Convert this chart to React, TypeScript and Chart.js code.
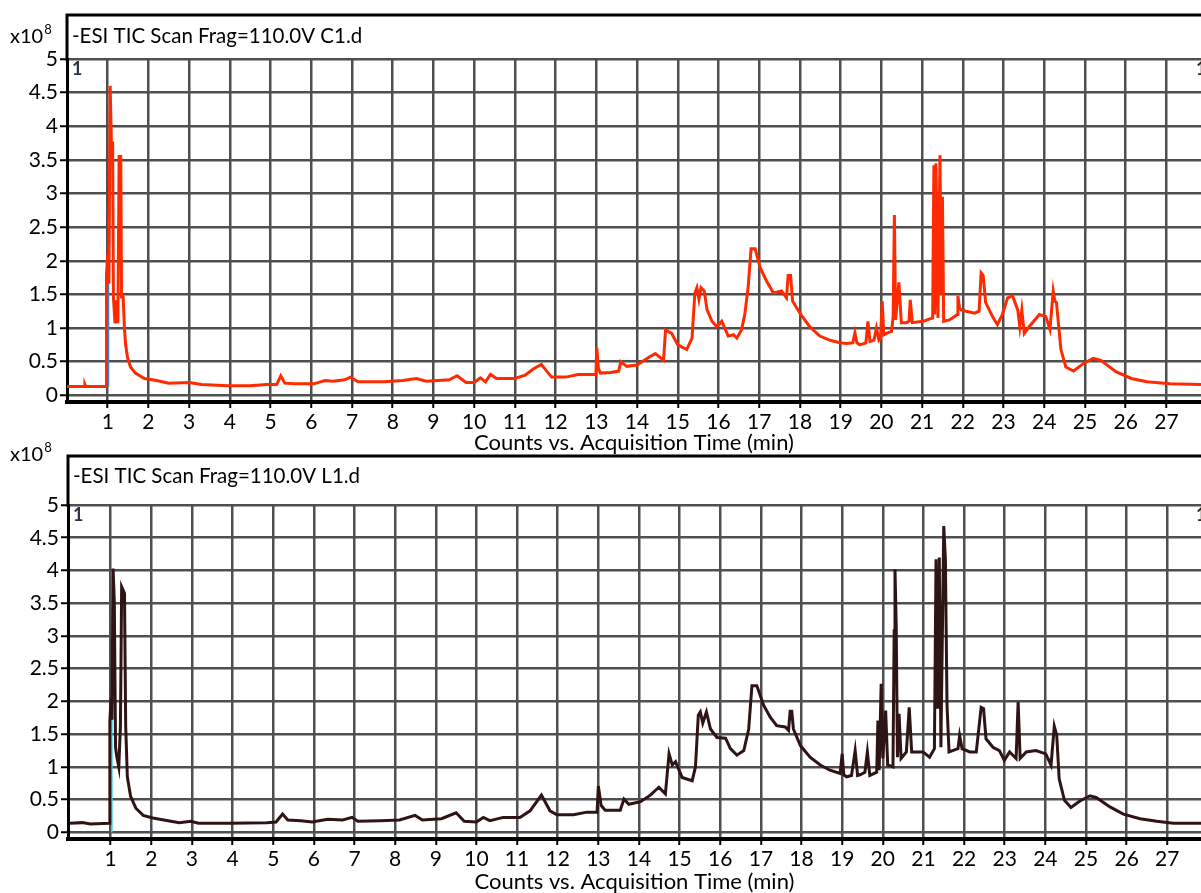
import React, { useEffect, useRef } from 'react';
import { Chart, registerables } from 'chart.js';

Chart.register(...registerables);

const FONT = 'Lato, "Open Sans", sans-serif';

// Axis ticks
const xTicks = [1, 2, 3, 4, 5, 6, 7, 8, 9, 10, 11, 12, 13, 14, 15, 16, 17, 18, 19, 20, 21, 22, 23, 24, 25, 26, 27];
const yTicks = [0, 0.5, 1, 1.5, 2, 2.5, 3, 3.5, 4, 4.5, 5];
const yTickLabels = ['0', '0.5', '1', '1.5', '2', '2.5', '3', '3.5', '4', '4.5', '5'];

const axisTitle = 'Counts vs. Acquisition Time (min)';
const c1Title = '-ESI TIC Scan Frag=110.0V C1.d';
const l1Title = '-ESI TIC Scan Frag=110.0V L1.d';

// C1 trace: acquisition time (min) and counts (x10^8)
const c1Time = [
  0, 0.42, 0.44, 0.46, 0.96, 0.97, 1.0, 1.03, 1.06, 1.09, 1.12, 1.14, 1.18, 1.21, 1.25, 1.28, 1.32, 1.34, 1.38, 1.41,
  1.44, 1.49, 1.56, 1.68, 1.9, 2.2, 2.5, 3.0, 3.3, 3.95, 4.5, 4.9, 5.15, 5.25, 5.35, 5.58, 6.06, 6.34, 6.53, 6.82,
  6.96, 7.15, 7.77, 8.25, 8.58, 8.82, 9.39, 9.58, 9.8, 10.0, 10.15, 10.28, 10.4, 10.55, 11.0, 11.25, 11.45, 11.65, 11.9, 12.25,
  12.55, 12.95, 12.99, 13.01, 13.05, 13.1, 13.35, 13.55, 13.6, 13.75, 14.0, 14.3, 14.45, 14.65, 14.7, 14.85, 15.0, 15.22, 15.35, 15.42,
  15.47, 15.52, 15.57, 15.65, 15.72, 15.84, 15.96, 16.08, 16.24, 16.37, 16.45, 16.57, 16.65, 16.73, 16.8, 16.9, 17.02, 17.18, 17.35, 17.55,
  17.67, 17.71, 17.77, 17.82, 18.0, 18.24, 18.49, 18.73, 18.98, 19.14, 19.3, 19.35, 19.4, 19.47, 19.62, 19.67, 19.72, 19.82, 19.88, 19.94,
  19.98, 20.02, 20.06, 20.12, 20.25, 20.29, 20.32, 20.35, 20.43, 20.49, 20.61, 20.68, 20.71, 20.76, 21.02, 21.26, 21.29, 21.31, 21.34, 21.37,
  21.39, 21.44, 21.47, 21.5, 21.53, 21.67, 21.8, 21.86, 21.88, 21.92, 21.96, 22.08, 22.29, 22.4, 22.45, 22.5, 22.56, 22.73, 22.85, 22.97,
  23.1, 23.22, 23.35, 23.4, 23.45, 23.51, 23.63, 23.88, 24.04, 24.14, 24.22, 24.26, 24.3, 24.41, 24.53, 24.72, 24.96, 25.2, 25.39, 25.76,
  26.14, 26.52, 27.09, 27.85,
];
const c1Counts = [
  0.13, 0.13, 0.16, 0.13, 0.13, 1.8, 2.1, 1.66, 4.6, 3.75, 3.75, 1.46, 1.07, 1.41, 1.07, 3.55, 3.55, 1.46, 1.46, 1.0,
  0.75, 0.55, 0.42, 0.33, 0.25, 0.22, 0.18, 0.19, 0.16, 0.14, 0.14, 0.16, 0.16, 0.29, 0.18, 0.17, 0.17, 0.22, 0.21, 0.23,
  0.27, 0.2, 0.2, 0.22, 0.25, 0.21, 0.23, 0.29, 0.19, 0.19, 0.26, 0.2, 0.31, 0.25, 0.25, 0.3, 0.39, 0.46, 0.27, 0.27,
  0.31, 0.31, 0.3, 0.71, 0.4, 0.33, 0.34, 0.36, 0.5, 0.43, 0.45, 0.57, 0.62, 0.52, 0.97, 0.92, 0.75, 0.68, 0.85, 1.52,
  1.6, 1.43, 1.6, 1.55, 1.27, 1.1, 1.02, 1.1, 0.88, 0.9, 0.85, 0.98, 1.22, 1.62, 2.18, 2.18, 1.9, 1.7, 1.52, 1.55,
  1.45, 1.78, 1.78, 1.4, 1.22, 1.02, 0.88, 0.82, 0.78, 0.77, 0.78, 0.93, 0.78, 0.75, 0.78, 1.1, 0.8, 0.82, 1.0, 0.82,
  0.85, 1.4, 0.9, 0.92, 0.95, 1.17, 2.68, 1.12, 1.68, 1.08, 1.08, 1.1, 1.42, 1.08, 1.1, 1.15, 3.42, 1.2, 3.45, 2.2,
  1.15, 3.57, 1.5, 2.95, 1.1, 1.12, 1.17, 1.2, 1.48, 1.3, 1.27, 1.25, 1.22, 1.25, 1.82, 1.78, 1.38, 1.17, 1.05, 1.2,
  1.45, 1.48, 1.27, 1.02, 1.27, 0.92, 1.02, 1.2, 1.17, 0.98, 1.55, 1.4, 1.38, 0.68, 0.42, 0.36, 0.47, 0.55, 0.52, 0.35,
  0.25, 0.2, 0.17, 0.16,
];

// L1 trace: acquisition time (min) and counts (x10^8)
const l1Time = [
  0, 0.3, 0.5, 0.97, 0.98, 1.01, 1.03, 1.06, 1.09, 1.12, 1.15, 1.2, 1.24, 1.27, 1.34, 1.37, 1.41, 1.49, 1.62, 1.8,
  2.04, 2.41, 2.69, 2.97, 3.16, 3.91, 4.84, 5.07, 5.23, 5.36, 5.68, 5.96, 6.34, 6.71, 6.94, 7.08, 7.64, 8.11, 8.49, 8.67,
  9.14, 9.5, 9.7, 10.0, 10.17, 10.33, 10.66, 11.07, 11.32, 11.6, 11.81, 11.98, 12.39, 12.72, 12.97, 13.0, 13.07, 13.17, 13.54, 13.63,
  13.75, 14.04, 14.28, 14.49, 14.65, 14.74, 14.82, 14.9, 15.06, 15.31, 15.39, 15.46, 15.51, 15.57, 15.66, 15.76, 15.92, 16.13, 16.25, 16.41,
  16.58, 16.7, 16.78, 16.9, 17.07, 17.23, 17.39, 17.6, 17.68, 17.72, 17.76, 17.8, 17.97, 18.21, 18.46, 18.7, 18.95, 19.0, 19.04, 19.11,
  19.23, 19.32, 19.38, 19.44, 19.56, 19.62, 19.68, 19.85, 19.88, 19.91, 19.96, 20.0, 20.07, 20.12, 20.25, 20.28, 20.3, 20.33, 20.36, 20.4,
  20.45, 20.58, 20.65, 20.71, 20.99, 21.15, 21.27, 21.31, 21.35, 21.39, 21.43, 21.5, 21.54, 21.58, 21.63, 21.85, 21.89, 21.95, 22.14, 22.3,
  22.42, 22.48, 22.54, 22.71, 22.87, 22.99, 23.12, 23.28, 23.33, 23.38, 23.53, 23.77, 24.01, 24.14, 24.22, 24.28, 24.34, 24.47, 24.63, 24.85,
  25.1, 25.26, 25.59, 25.92, 26.33, 26.74, 27.15, 27.83,
];
const l1Counts = [
  0.14, 0.15, 0.13, 0.14, 1.7, 2.05, 1.72, 4.03, 3.5, 1.3, 1.16, 1.0, 1.62, 3.75, 3.65, 1.62, 0.85, 0.55, 0.37, 0.26,
  0.22, 0.18, 0.15, 0.17, 0.14, 0.14, 0.15, 0.16, 0.28, 0.19, 0.18, 0.16, 0.2, 0.19, 0.23, 0.17, 0.18, 0.19, 0.26, 0.19,
  0.21, 0.3, 0.17, 0.16, 0.23, 0.18, 0.23, 0.23, 0.33, 0.57, 0.33, 0.27, 0.27, 0.31, 0.31, 0.71, 0.41, 0.34, 0.34, 0.51,
  0.43, 0.47, 0.57, 0.69, 0.59, 1.2, 1.03, 1.08, 0.84, 0.79, 1.0, 1.79, 1.84, 1.67, 1.84, 1.58, 1.45, 1.44, 1.28, 1.18,
  1.25, 1.58, 2.24, 2.24, 1.94, 1.76, 1.63, 1.61, 1.56, 1.85, 1.85, 1.58, 1.33, 1.15, 1.03, 0.95, 0.9, 1.2, 0.88, 0.85,
  0.87, 1.25, 0.87, 0.88, 0.92, 1.23, 0.87, 0.92, 1.71, 0.95, 2.27, 1.13, 1.86, 1.03, 1.0, 3.08, 4.02, 3.16, 1.15, 1.81,
  1.13, 1.23, 1.91, 1.23, 1.23, 1.15, 1.28, 4.17, 1.89, 4.2, 1.3, 4.68, 4.17, 1.94, 1.23, 1.28, 1.48, 1.28, 1.23, 1.23,
  1.91, 1.89, 1.43, 1.3, 1.25, 1.1, 1.23, 1.13, 1.99, 1.13, 1.23, 1.25, 1.2, 1.03, 1.62, 1.48, 0.82, 0.49, 0.38, 0.48,
  0.56, 0.53, 0.39, 0.28, 0.21, 0.17, 0.14, 0.14,
];

// Injection marker traces
const c1MarkerTime = [1.02, 1.02];
const c1MarkerCounts = [0.13, 2.83];
const l1MarkerTime = [1.03, 1.03];
const l1MarkerCounts = [0, 3.95];

type PanelProps = {
  top: number;
  height: number;
  areaLeft: number;
  areaTop: number;
  areaBottom: number;
  xMin: number;
  xMax: number;
  title: string;
  times: number[];
  counts: number[];
  color: string;
  markerTimes: number[];
  markerCounts: number[];
  markerColor: string;
  frameY: number;
  titleY: number;
  expY: number;
  titlePad: number;
};

function Panel(p: PanelProps) {
  const ref = useRef<HTMLCanvasElement | null>(null);
  useEffect(() => {
    if (!ref.current) return;
    const header = {
      id: 'header',
      afterDraw(chart: any) {
        const ctx = chart.ctx as CanvasRenderingContext2D;
        const { left, top } = chart.chartArea;
        ctx.save();
        ctx.strokeStyle = '#000';
        ctx.lineWidth = 3;
        ctx.beginPath();
        ctx.moveTo(left - 1.5, p.frameY);
        ctx.lineTo(chart.width, p.frameY);
        ctx.moveTo(left, p.frameY);
        ctx.lineTo(left, top + 2);
        ctx.stroke();
        ctx.fillStyle = '#000';
        ctx.textBaseline = 'middle';
        ctx.textAlign = 'left';
        ctx.font = `20.5px ${FONT}`;
        ctx.fillText(p.title, left + 5, p.titleY);
        ctx.font = `20px ${FONT}`;
        ctx.fillText('x10', 10, p.expY);
        const w = ctx.measureText('x10').width;
        ctx.font = `13px ${FONT}`;
        ctx.fillText('8', 10 + w + 1, p.expY - 7);
        ctx.font = `bold 18px ${FONT}`;
        ctx.fillStyle = '#2a3244';
        ctx.fillText('1', left + 5, top + 10);
        ctx.fillStyle = '#2f2a10';
        ctx.fillText('1', chart.width - 5, top + 10);
        ctx.restore();
      },
    };
    const chart = new Chart(ref.current, {
      type: 'line',
      data: {
        datasets: [
          {
            data: p.times.map((t, i) => ({ x: t, y: p.counts[i] })),
            borderColor: p.color,
            borderWidth: 3,
            pointRadius: 0,
            tension: 0,
            fill: false,
          },
          {
            data: p.markerTimes.map((t, i) => ({ x: t, y: p.markerCounts[i] })),
            borderColor: p.markerColor,
            borderWidth: 1.5,
            pointRadius: 0,
            fill: false,
          },
        ],
      },
      options: {
        animation: false,
        responsive: false,
        maintainAspectRatio: false,
        layout: { padding: { top: p.areaTop, left: 0, right: 0, bottom: 0 } },
        plugins: { legend: { display: false }, tooltip: { enabled: false }, title: { display: false } },
        scales: {
          x: {
            type: 'linear',
            min: p.xMin,
            max: p.xMax,
            afterBuildTicks: (s: any) => {
              s.ticks = xTicks.map((v) => ({ value: v }));
            },
            afterFit: (s: any) => {
              s.height = p.height - p.areaBottom;
            },
            grid: { color: '#4f4f4f', lineWidth: 2.5, tickColor: '#000', tickLength: 6, tickWidth: 2 },
            border: { color: '#000', width: 4 },
            ticks: {
              color: '#000',
              font: { family: FONT, size: 21 },
              padding: 2,
              maxRotation: 0,
              autoSkip: false,
              callback: (v: any) => String(v),
            },
            title: {
              display: true,
              text: axisTitle,
              color: '#000',
              font: { family: FONT, size: 22, lineHeight: 1 },
              padding: { top: 0, bottom: p.titlePad },
            },
          },
          y: {
            type: 'linear',
            min: -0.1,
            max: 5,
            afterBuildTicks: (s: any) => {
              s.ticks = yTicks.map((v) => ({ value: v }));
            },
            afterFit: (s: any) => {
              s.width = p.areaLeft;
            },
            grid: { color: '#4f4f4f', lineWidth: 2.5, tickColor: '#000', tickLength: 7, tickWidth: 2 },
            border: { color: '#000', width: 3 },
            ticks: {
              color: '#000',
              font: { family: FONT, size: 21 },
              padding: 2,
              autoSkip: false,
              callback: (v: any) => yTickLabels[yTicks.indexOf(Number(v))] ?? String(v),
            },
          },
        },
      },
      plugins: [header],
    } as any);
    return () => chart.destroy();
  }, []);
  return (
    <canvas
      ref={ref}
      width={1201}
      height={p.height}
      style={{ position: 'absolute', left: 0, top: p.top, width: 1201, height: p.height }}
    />
  );
}

export default function App() {
  return (
    <div style={{ position: 'absolute', left: 0, top: 0, width: 1201, height: 893, background: '#fff', overflow: 'hidden' }}>
      <Panel
        top={0}
        height={455}
        areaLeft={67}
        areaTop={59}
        areaBottom={402}
        xMin={0}
        xMax={27.85}
        title={c1Title}
        times={c1Time}
        counts={c1Counts}
        color="#ff2a00"
        markerTimes={c1MarkerTime}
        markerCounts={c1MarkerCounts}
        markerColor="#3d85d8"
        frameY={15}
        titleY={36}
        expY={37}
        titlePad={1}
      />
      <Panel
        top={440}
        height={453}
        areaLeft={68}
        areaTop={65}
        areaBottom={399}
        xMin={-0.05}
        xMax={27.83}
        title={l1Title}
        times={l1Time}
        counts={l1Counts}
        color="#2e1414"
        markerTimes={l1MarkerTime}
        markerCounts={l1MarkerCounts}
        markerColor="#3cc8e6"
        frameY={16}
        titleY={36}
        expY={15}
        titlePad={0}
      />
    </div>
  );
}
